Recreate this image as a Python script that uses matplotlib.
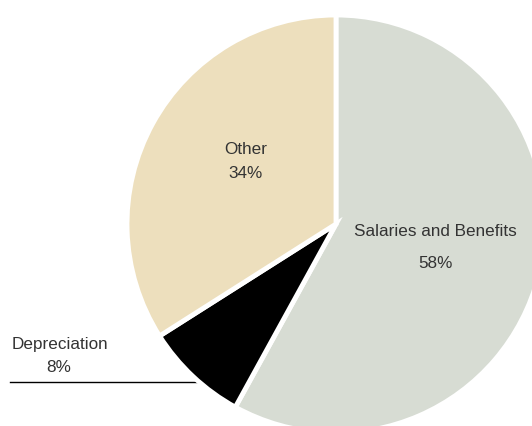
import matplotlib.pyplot as plt

# --- Data ---
categories = ['Salaries and Benefits', 'Depreciation', 'Other']
shares = [58, 8, 34]
colors = ['#d7dcd3', '#000000', '#eddfbd']

plt.rcParams['font.family'] = ['Liberation Sans', 'DejaVu Sans']

fig = plt.figure(figsize=(5.32, 4.26), dpi=100)
ax = fig.add_axes([0, 0, 1, 1])

# leader line for the small slice (drawn under the pie)
ax.plot([10, 215], [44, 44], color='black', linewidth=1.0, zorder=1)

wedges, _ = ax.pie(shares, colors=colors, startangle=90, counterclock=False,
                   center=(336, 202), radius=209, frame=True,
                   wedgeprops=dict(edgecolor='white', linewidth=3.5, zorder=2))
ax.set_xlim(0, 532)
ax.set_ylim(0, 426)
ax.set_aspect('equal')
ax.axis('off')

txt = dict(color='#333333', fontsize=12.3, ha='center', va='center', zorder=5)
ax.text(435, 195, categories[0], **txt)
ax.text(435, 163, f'{shares[0]}%', **txt)
ax.text(246, 277, categories[2], **txt)
ax.text(246, 253, f'{shares[2]}%', **txt)
ax.text(60, 82, categories[1], **txt)
ax.text(59, 58, f'{shares[1]}%', **txt)

fig.savefig('out.png', dpi=100)
